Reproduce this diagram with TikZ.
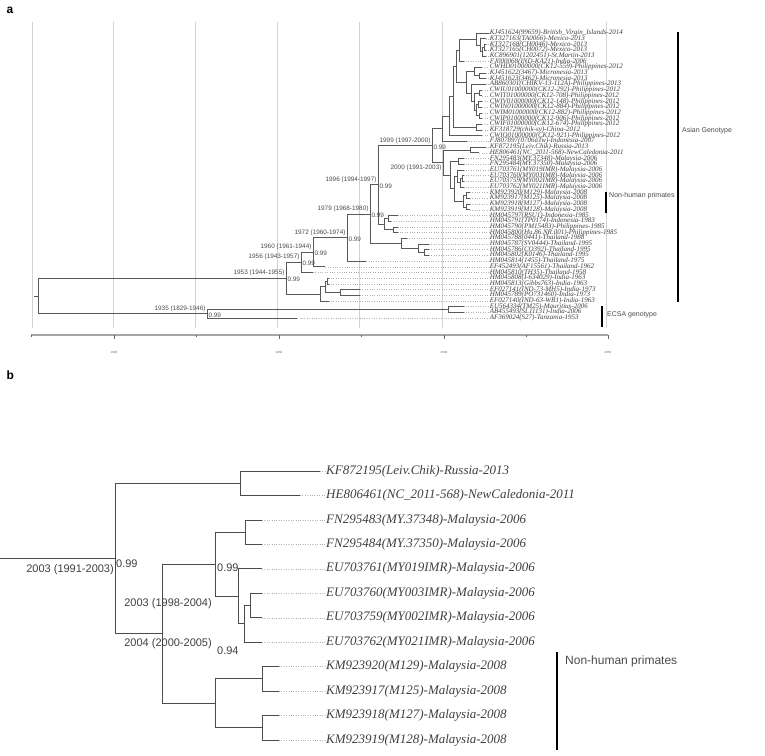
\documentclass[tikz,border=0pt]{standalone}
\usepackage{fontspec}
\setmainfont{Liberation Serif}
\setsansfont{Liberation Sans}
\usetikzlibrary{positioning}

\begin{document}
\begin{tikzpicture}[
    x=1pt, y=-1pt,
    branch/.style={draw=black!65, line width=0.55pt},
    branchb/.style={draw=black!70, line width=0.8pt},
    tipline/.style={draw=black!30, dotted, line width=0.4pt},
    gridline/.style={draw=black!18, line width=0.6pt},
    tiplabel/.style={anchor=west, inner sep=0.6pt, text=black!75, font=\fontsize{7}{7}\selectfont\itshape},
    tiplabelb/.style={anchor=west, inner sep=1pt, text=black!75, font=\fontsize{13}{13}\selectfont\itshape},
    datelabel/.style={anchor=south east, inner sep=0.8pt, text=black!70, font=\sffamily\fontsize{6.4}{6.4}\selectfont},
    postlabel/.style={anchor=west, inner sep=0.8pt, text=black!70, font=\sffamily\fontsize{6.4}{6.4}\selectfont},
    datelabelb/.style={inner sep=1pt, text=black!75, font=\sffamily\fontsize{11}{11}\selectfont},
    groupbar/.style={draw=black, line width=1.6pt},
    grouplabel/.style={anchor=west, inner sep=1pt, text=black!70, font=\sffamily\fontsize{7}{7}\selectfont},
    ]
\useasboundingbox (0,0) rectangle (765,755);
\fill[white] (0,0) rectangle (765,755);

%Panel letters
\node[anchor=west, font=\sffamily\bfseries\fontsize{12}{12}\selectfont] (pa) at (3,10) {a};
\node[anchor=west, font=\sffamily\bfseries\fontsize{12}{12}\selectfont] (pb) at (3,375) {b};

%Grid and time axis
\foreach \x in {32,113,195,277,359,442,606}
    \draw[gridline] (\x,22) -- (\x,328);
\draw[draw=black!35, line width=1.3pt] (31,335) -- (608,335);
\foreach \x in {31,196,361,526}
    \draw[draw=black!60, line width=0.4pt] (\x,335) -- (\x,337);
\foreach \x/\yr in {114/1900,279/1950,444/2000,608/2050}{
    \draw[draw=black!60, line width=0.4pt] (\x,335) -- (\x,338.5);
    \node[font=\sffamily\fontsize{3}{3}\selectfont, text=black!60] at (\x,352) {\yr};
}

%Tips (panel a)
\foreach \i/\yr/\name in {
    1/2014/KJ451624(99659)-British\_Virgin\_Islands-2014,
    2/2013/KT327163(TA0066)-Mexico-2013,
    3/2013/KT327168(CH0046)-Mexico-2013,
    4/2013/KT327165(CH0072)-Mexico-2013,
    5/2013/KC896901(1202451)-St.Martin-2013,
    6/2006/FJ000068(IND-KA21)-India-2006,
    7/2012/CWHD01000000(CK12-559)-Philippines-2012,
    8/2013/KJ451622(3467)-Micronesia-2013,
    9/2013/KJ451623(3462)-Micronesia-2013,
    10/2013/AB860301(CHIKV-13-112A)-Philippines-2013,
    11/2012/CWIU01000000(CK12-292)-Philippines-2012,
    12/2012/CWIT01000000(CK12-708)-Philippines-2012,
    13/2012/CWIV01000000(CK12-148)-Philippines-2012,
    14/2012/CWIN01000000(CK12-884)-Philippines-2012,
    15/2012/CWIM01000000(CK12-882)-Philippines-2012,
    16/2012/CWIP01000000(CK12-906)-Philippines-2012,
    17/2012/CWIF01000000(CK12-674)-Philippines-2012,
    18/2012/KF318729(chik-sy)-China-2012,
    19/2012/CWIO01000000(CK12-921)-Philippines-2012,
    20/2007/FJ807897(0706aTw)-Indonesia-2007,
    21/2013/KF872195(Leiv.Chik)-Russia-2013,
    22/2011/HE806461(NC\_2011-568)-NewCaledonia-2011,
    23/2006/FN295483(MY.37348)-Malaysia-2006,
    24/2006/FN295484(MY.37350)-Malaysia-2006,
    25/2006/EU703761(MY019IMR)-Malaysia-2006,
    26/2006/EU703760(MY003IMR)-Malaysia-2006,
    27/2006/EU703759(MY002IMR)-Malaysia-2006,
    28/2006/EU703762(MY021IMR)-Malaysia-2006,
    29/2008/KM923920(M129)-Malaysia-2008,
    30/2008/KM923917(M125)-Malaysia-2008,
    31/2008/KM923918(M127)-Malaysia-2008,
    32/2008/KM923919(M128)-Malaysia-2008,
    33/1985/HM045797(RSU1)-Indonesia-1985,
    34/1983/HM045791(TP0174)-Indonesia-1983,
    35/1985/HM045790(PM15483)-Philippines-1985,
    36/1985/HM045800(Hu.86.NR.001)-Philippines-1985,
    37/1988/HM045788(0441)-Thailand-1988,
    38/1995/HM045787(SV0444)-Thailand-1995,
    39/1995/HM045786(CO392)-Thailand-1995,
    40/1995/HM045802(K0146)-Thailand-1995,
    41/1975/HM045814(1455)-Thailand-1975,
    42/1962/EF452493(AF15561)-Thailand-1962,
    43/1958/HM045810(TH35)-Thailand-1958,
    44/1963/HM045808(I-634029)-India-1963,
    45/1963/HM045813(Gibbs763)-India-1963,
    46/1973/EF027141(IND-73-MH5)-India-1973,
    47/1973/HM045789(PO731460)-India-1973,
    48/1963/EF027140(IND-63-WB1)-India-1963,
    49/2006/EU564334(TM25)-Mauritius-2006,
    50/2006/AB455493(SL11131)-India-2006,
    51/1953/AF369024(S27)-Tanzania-1953}{
    \coordinate (t\i) at ({429+(\yr-1995)*3.14}, {33+5.7*(\i-1)});
    \node[tiplabel] (l\i) at (489, {33+5.7*(\i-1)}) {\name};
    \draw[tipline] (t\i) -- (l\i.west);
}

%Internal nodes (panel a)
\coordinate (NA4) at (484,47.25);
\coordinate (NA3) at (482.5,51.5);
\coordinate (NA2) at (480,45.1);
\coordinate (NA1) at (476,39.05);
\coordinate (NA) at (459,50.3);
\coordinate (NMic) at (479,75.75);
\coordinate (NB1) at (474,71.5);
\coordinate (NCW1) at (479,92.85);
\coordinate (NCW2) at (478,104.25);
\coordinate (NCW3) at (479,115.65);
\coordinate (NCW23) at (476,109.95);
\coordinate (NCW) at (474,101.4);
\coordinate (NB2) at (471,92.85);
\coordinate (NB) at (466,82.2);
\coordinate (N116) at (456,66.25);
\coordinate (N1718) at (476,127.05);
\coordinate (N118) at (453,96.65);
\coordinate (N119) at (449,116.1);
\coordinate (Nup) at (442,128.7);
\coordinate (N2122) at (470,149.85);
\coordinate (NFN) at (458,161.25);
\coordinate (NEU3) at (462,178.35);
\coordinate (NEU2) at (460,182.6);
\coordinate (NEU) at (457,176.2);
\coordinate (NKM1) at (466,195.45);
\coordinate (NKM2) at (466,206.85);
\coordinate (NKM) at (463,201.15);
\coordinate (NEK) at (454,188.7);
\coordinate (NMal) at (450,174.95);
\coordinate (N2000) at (443,162.4);
\coordinate (N1999) at (432,145.55);
\coordinate (NPh1) at (388,218.25);
\coordinate (NPh2) at (393,229.65);
\coordinate (NPhil) at (384,223.95);
\coordinate (N1996) at (378,184.75);
\coordinate (NT2) at (424,252.45);
\coordinate (NThai95) at (418,248.2);
\coordinate (NThai) at (401,243.2);
\coordinate (N1979) at (370,214);
\coordinate (N1972) at (347,237.5);
\coordinate (N1960) at (313,252.1);
\coordinate (N1956) at (301,262.25);
\coordinate (NI2) at (327,280.95);
\coordinate (NI3) at (340,292.35);
\coordinate (NI1) at (325,286.65);
\coordinate (NIndia) at (320,293.8);
\coordinate (N1953) at (286,278);
\coordinate (NECSA) at (448,309.45);
\coordinate (N1935) at (207,313.7);
\coordinate (Root) at (38,295.85);
\coordinate (RootS) at (34,295.85);

%Branches (panel a)
\draw[branch] (RootS) -- (Root);
\foreach \p/\c in {NA4/t3,NA4/t4,NA3/NA4,NA3/t5,NA2/t2,NA2/NA3,NA1/t1,NA1/NA2,
    NA/NA1,NA/t6,NMic/t8,NMic/t9,NB1/t7,NB1/NMic,NCW1/t11,NCW1/t12,NCW2/t13,NCW2/t14,
    NCW3/t15,NCW3/t16,NCW23/NCW2,NCW23/NCW3,NCW/NCW1,NCW/NCW23,NB2/t10,NB2/NCW,
    NB/NB1,NB/NB2,N116/NA,N116/NB,N1718/t17,N1718/t18,N118/N116,N118/N1718,
    N119/N118,N119/t19,Nup/N119,Nup/t20,N2122/t21,N2122/t22,NFN/t23,NFN/t24,
    NEU3/t26,NEU3/t27,NEU2/NEU3,NEU2/t28,NEU/t25,NEU/NEU2,NKM1/t29,NKM1/t30,
    NKM2/t31,NKM2/t32,NKM/NKM1,NKM/NKM2,NEK/NEU,NEK/NKM,NMal/NFN,NMal/NEK,
    N2000/N2122,N2000/NMal,N1999/Nup,N1999/N2000,NPh1/t33,NPh1/t34,NPh2/t35,NPh2/t36,
    NPhil/NPh1,NPhil/NPh2,N1996/N1999,N1996/NPhil,NT2/t39,NT2/t40,NThai95/t38,
    NThai95/NT2,NThai/t37,NThai/NThai95,N1979/N1996,N1979/NThai,N1972/N1979,
    N1972/t41,N1960/N1972,N1960/t42,N1956/N1960,N1956/t43,NI2/t44,NI2/t45,
    NI3/t46,NI3/t47,NI1/NI2,NI1/NI3,NIndia/NI1,NIndia/t48,N1953/N1956,N1953/NIndia,
    NECSA/t49,NECSA/t50,N1935/NECSA,N1935/t51,Root/N1953,Root/N1935}
    \draw[branch] (\p) |- (\c);

%Node ages and posteriors (panel a)
\foreach \n/\txt in {N1935/1935 (1829-1946),N1953/1953 (1944-1955),N1956/1956 (1943-1957),
    N1960/1960 (1961-1944),N1972/1972 (1960-1974),N1979/1979 (1968-1980),
    N1996/1996 (1994-1997),N1999/1999 (1997-2000)}
    \node[datelabel] at ([xshift=-0.5pt,yshift=1pt]\n) {\txt};
\node[datelabel, anchor=north east] at ([xshift=-0.5pt,yshift=-1pt]N2000) {2000 (1991-2003)};
\foreach \n in {N1935,N1953,N1956,N1960,N1972,N1979,N1996,N1999}
    \node[postlabel] at ([xshift=0.5pt,yshift=-1.5pt]\n) {0.99};

%Groups (panel a)
\draw[groupbar] (678,32) -- (678,302);
\node[grouplabel] at (681,131) {Asian Genotype};
\draw[groupbar] (606,192) -- (606,213);
\node[grouplabel] at (608,196) {Non-human primates};
\draw[groupbar] (602,306) -- (602,327);
\node[grouplabel] at (606,315) {ECSA genotype};

%Tips (panel b)
\foreach \j/\x/\name in {
    1/320/KF872195(Leiv.Chik)-Russia-2013,
    2/300/HE806461(NC\_2011-568)-NewCaledonia-2011,
    3/262/FN295483(MY.37348)-Malaysia-2006,
    4/262/FN295484(MY.37350)-Malaysia-2006,
    5/262/EU703761(MY019IMR)-Malaysia-2006,
    6/262/EU703760(MY003IMR)-Malaysia-2006,
    7/262/EU703759(MY002IMR)-Malaysia-2006,
    8/262/EU703762(MY021IMR)-Malaysia-2006,
    9/279/KM923920(M129)-Malaysia-2008,
    10/279/KM923917(M125)-Malaysia-2008,
    11/279/KM923918(M127)-Malaysia-2008,
    12/279/KM923919(M128)-Malaysia-2008}{
    \coordinate (bt\j) at (\x, {471+24.45*(\j-1)});
    \node[tiplabelb] (bl\j) at (325, {471+24.45*(\j-1)}) {\name};
    \draw[tipline] (bt\j) -- (bl\j.west);
}

%Internal nodes (panel b)
\coordinate (bKH) at (240,483.2);
\coordinate (bFN) at (245,532.1);
\coordinate (bEU2) at (250,605.5);
\coordinate (bEU3) at (244,623.8);
\coordinate (bEU) at (238,596.3);
\coordinate (bFE) at (215,564.2);
\coordinate (bKM1) at (262,678.8);
\coordinate (bKM2) at (262,727.7);
\coordinate (bKM) at (215,703.3);
\coordinate (b98) at (162,633.8);
\coordinate (bRoot) at (115,558.5);
\coordinate (bS) at (0,558.5);

%Branches (panel b)
\draw[branchb] (bS) -- (bRoot);
\foreach \p/\c in {bRoot/bKH,bRoot/b98,bKH/bt1,bKH/bt2,b98/bFE,b98/bKM,bFE/bFN,bFE/bEU,
    bFN/bt3,bFN/bt4,bEU/bt5,bEU/bEU3,bEU3/bEU2,bEU3/bt8,bEU2/bt6,bEU2/bt7,
    bKM/bKM1,bKM/bKM2,bKM1/bt9,bKM1/bt10,bKM2/bt11,bKM2/bt12}
    \draw[branchb] (\p) |- (\c);

%Node ages and posteriors (panel b)
\node[datelabelb, anchor=north east] at ([yshift=-5pt]bRoot) {2003 (1991-2003)};
\node[datelabelb, anchor=west] at ([yshift=-5pt]bRoot) {0.99};
\node[datelabelb, anchor=east] at ([xshift=-2pt,yshift=-39pt]bFE) {2003 (1998-2004)};
\node[datelabelb, anchor=west] at ([xshift=1pt,yshift=-4pt]bFE) {0.99};
\node[datelabelb, anchor=east] at ([xshift=-2pt,yshift=-79pt]bFE) {2004 (2000-2005)};
\node[datelabelb, anchor=west] at ([xshift=1pt,yshift=-87pt]bFE) {0.94};

%Group (panel b)
\draw[groupbar] (557,652) -- (557,750);
\node[grouplabel, font=\sffamily\fontsize{12}{12}\selectfont] at (564,661) {Non-human primates};
\end{tikzpicture}
\end{document}
